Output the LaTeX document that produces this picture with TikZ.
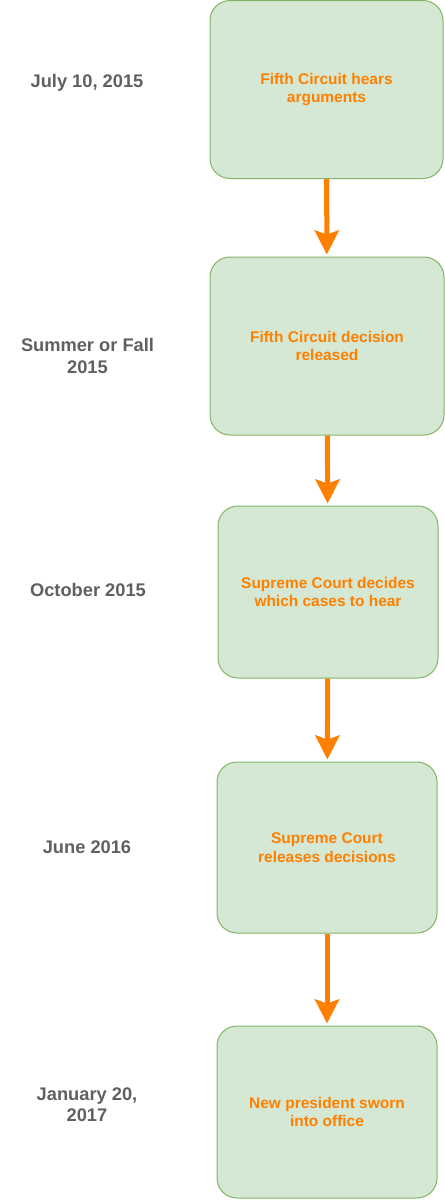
\documentclass[tikz,border=0pt]{standalone}
\usepackage{fontspec}
\setmainfont{Liberation Sans}
\usetikzlibrary{arrows.meta,positioning}
\definecolor{boxgreen}{RGB}{213,232,212}
\definecolor{edgegreen}{RGB}{130,179,102}
\definecolor{deeporange}{RGB}{255,128,0}
\definecolor{dategray}{RGB}{96,96,96}

\begin{document}
\begin{tikzpicture}[x=0.75pt,y=-0.75pt,
		stepbox/.style={draw=edgegreen,fill=boxgreen,rounded corners=15pt,line width=0.75pt,
			align=center,text=deeporange,font=\fontsize{11.6}{14}\selectfont\bfseries,inner sep=0pt},
		datelabel/.style={align=center,text=dategray,font=\fontsize{13.7}{16}\selectfont\bfseries},
		flow/.style={draw=deeporange,line width=3.75pt,shorten >=1.5pt,
			-{Stealth[length=18pt,width=18pt,inset=3pt]}}]
	\useasboundingbox (0,0) rectangle (445,1200);
	
	% steps
	\node[stepbox,minimum width=174.75pt,minimum height=133.5pt] (s1) at (326.5,89.5) {Fifth Circuit hears\\arguments};
	\node[stepbox,minimum width=175.5pt,minimum height=133.5pt] (s2) at (327,346) {Fifth Circuit decision\\released};
	\node[stepbox,minimum width=165pt,minimum height=129pt] (s3) at (328,592) {Supreme Court decides\\which cases to hear};
	\node[stepbox,minimum width=165pt,minimum height=128.25pt] (s4) at (327,847.5) {Supreme Court\\releases decisions};
	\node[stepbox,minimum width=165pt,minimum height=129pt] (s5) at (327,1112) {New president sworn\\into office};
	
	% dates
	\node[datelabel] (d1) at (87,83) {July 10, 2015};
	\node[datelabel] (d2) at (87.5,356) {Summer or Fall\\2015};
	\node[datelabel] (d3) at (88,590) {October 2015};
	\node[datelabel] (d4) at (87,847) {June 2016};
	\node[datelabel] (d5) at (87,1105) {January 20,\\2017};
	
	\draw[flow] (s1) -- (s2);
	\draw[flow] (s2) -- (s3);
	\draw[flow] (s3) -- (s4);
	\draw[flow] (s4) -- (s5);
	
\end{tikzpicture}
\end{document}
